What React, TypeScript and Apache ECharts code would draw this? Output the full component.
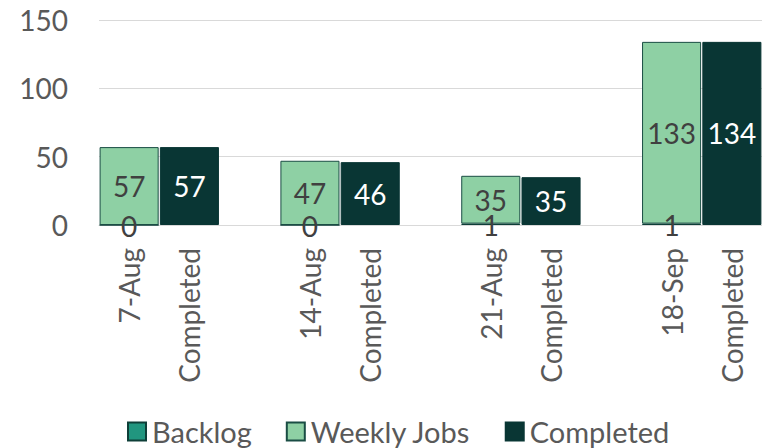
import React, { useEffect, useRef } from "react";
import * as echarts from "echarts";

const weeks = ["7-Aug", "14-Aug", "21-Aug", "18-Sep"];
const pairLabel = "Completed";
const backlog = [0, 0, 1, 1];
const weeklyJobs = [57, 47, 35, 133];
const completed = [57, 46, 35, 134];
const yTicks = { min: 0, max: 150, interval: 50 };

const FONT = "Lato, 'Noto Sans', sans-serif";
const TEXT = "#595959";
const FS = 28;

export default function App() {
  const ref = useRef<HTMLDivElement>(null);
  useEffect(() => {
    if (!ref.current) return;
    const chart = echarts.init(ref.current, null, { renderer: "svg" });

    const categories: string[] = [];
    const bData: (number | null)[] = [];
    const wData: (number | null)[] = [];
    const cData: (number | null)[] = [];
    weeks.forEach((w, i) => {
      categories.push(w);
      bData.push(backlog[i]);
      wData.push(weeklyJobs[i]);
      cData.push(null);
      categories.push(pairLabel);
      bData.push(null);
      wData.push(null);
      cData.push(completed[i]);
      if (i < weeks.length - 1) {
        categories.push("");
        bData.push(null);
        wData.push(null);
        cData.push(null);
      }
    });

    chart.setOption({
      animation: false,
      textStyle: { fontFamily: FONT },
      grid: { left: 99, top: 20, width: 667, height: 205, containLabel: false },
      legend: {
        left: 127,
        top: 417,
        itemWidth: 18,
        itemHeight: 18,
        itemGap: 34,
        icon: "rect",
        padding: 0,
        textStyle: {
          fontSize: 29,
          lineHeight: 29,
          color: TEXT,
          fontFamily: FONT,
          padding: [0, 0, 0, 1],
        },
        data: ["Backlog", "Weekly Jobs", "Completed"],
      },
      xAxis: {
        type: "category",
        data: categories,
        axisLine: { lineStyle: { color: "#d9d9d9", width: 1 } },
        axisTick: { show: false },
        axisLabel: {
          interval: 0,
          rotate: 90,
          fontSize: FS,
          color: TEXT,
          margin: 23,
          fontFamily: FONT,
        },
      },
      yAxis: {
        type: "value",
        min: yTicks.min,
        max: yTicks.max,
        interval: yTicks.interval,
        axisLine: { show: false },
        axisTick: { show: false },
        splitLine: { lineStyle: { color: "#d9d9d9", width: 1 } },
        axisLabel: { fontSize: FS, color: TEXT, margin: 31, fontFamily: FONT },
      },
      series: [
        {
          name: "Backlog",
          type: "bar",
          stack: "a",
          data: bData,
          barCategoryGap: "2%",
          itemStyle: { color: "#21967f", borderColor: "#0e3f38", borderWidth: 1 },
          label: {
            show: true,
            position: "inside",
            offset: [0, 1],
            fontSize: FS,
            color: "#404040",
            fontFamily: FONT,
          },
        },
        {
          name: "Weekly Jobs",
          type: "bar",
          stack: "a",
          data: wData,
          itemStyle: { color: "#8ed0a4", borderColor: "#1a4d44", borderWidth: 1 },
          label: {
            show: true,
            position: "inside",
            fontSize: FS,
            color: "#404040",
            fontFamily: FONT,
          },
        },
        {
          name: "Completed",
          type: "bar",
          stack: "a",
          data: cData,
          itemStyle: { color: "#093634", borderColor: "#093634", borderWidth: 1 },
          label: {
            show: true,
            position: "inside",
            fontSize: FS,
            color: "#ffffff",
            fontFamily: FONT,
          },
        },
      ],
    });
    return () => chart.dispose();
  }, []);
  return <div ref={ref} style={{ width: 762, height: 448, position: "absolute", left: 0, top: 0 }} />;
}
